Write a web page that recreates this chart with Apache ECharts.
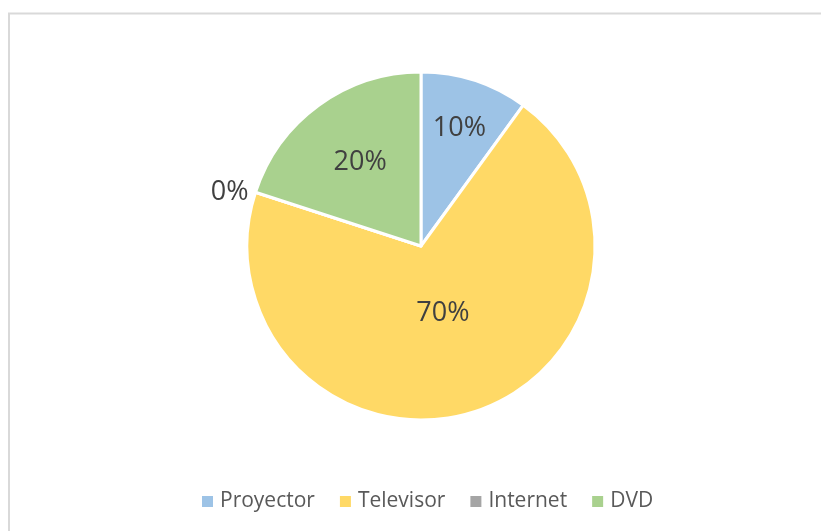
<!DOCTYPE html>
<html>
<head>
<meta charset="utf-8">
<script src="https://cdn.jsdelivr.net/npm/echarts@6/dist/echarts.min.js"></script>
<style>
  html, body { margin: 0; padding: 0; background: #fff; }
  #chart { width: 821px; height: 531px; }
</style>
</head>
<body>
<div id="chart"></div>
<script>
// data
var categories = ['Proyector', 'Televisor', 'Internet', 'DVD'];
var shares = [10, 70, 0, 20];
var colors = ['#9DC3E6', '#FFD966', '#A5A5A5', '#A9D18E'];
// how far each inside label sits, relative to the default mid-radius spot
var labelPush = [1.38, 0.79, null, 1.15];

var pieCenter = [421, 246];
var pieRadius = 174;

var chart = echarts.init(document.getElementById('chart'));

var pieData = categories.map(function (name, i) {
  var item = { name: name, value: shares[i] };
  if (shares[i] === 0) {
    // empty slice: label sits just outside the edge, no leader line
    item.label = { position: 'outside', distanceToLabelLine: 5 };
    item.labelLine = { show: false, length: 0, length2: 2 };
  }
  return item;
});

var option = {
  backgroundColor: '#fff',
  color: colors,
  animation: false,
  graphic: [{
    type: 'rect',
    shape: { x: 9, y: 13.5, width: 900, height: 600 },
    style: { fill: 'none', stroke: '#d9d9d9', lineWidth: 2 },
    silent: true
  }],
  legend: {
    data: categories,
    left: 197,
    top: 486,
    icon: 'rect',
    itemWidth: 11,
    itemHeight: 11,
    itemGap: 25,
    itemStyle: { borderWidth: 0 },
    textStyle: {
      color: '#595959',
      fontFamily: 'Open Sans',
      fontSize: 21,
      padding: [0, 0, 0, 2]
    }
  },
  series: [{
    type: 'pie',
    center: pieCenter,
    radius: pieRadius,
    startAngle: 90,
    clockwise: true,
    avoidLabelOverlap: false,
    itemStyle: { borderColor: '#fff', borderWidth: 3 },
    label: {
      show: true,
      position: 'inside',
      formatter: '{d}%',
      color: '#404040',
      fontFamily: 'Open Sans',
      fontSize: 27
    },
    emphasis: { disabled: true },
    labelLayout: function (params) {
      var f = labelPush[params.dataIndex];
      if (!f) return {};
      var r = params.labelRect;
      var lx = r.x + r.width / 2;
      var ly = r.y + r.height / 2;
      return {
        x: pieCenter[0] + (lx - pieCenter[0]) * f,
        y: pieCenter[1] + (ly - pieCenter[1]) * f
      };
    },
    data: pieData
  }]
};

chart.setOption(option);
</script>
</body>
</html>
